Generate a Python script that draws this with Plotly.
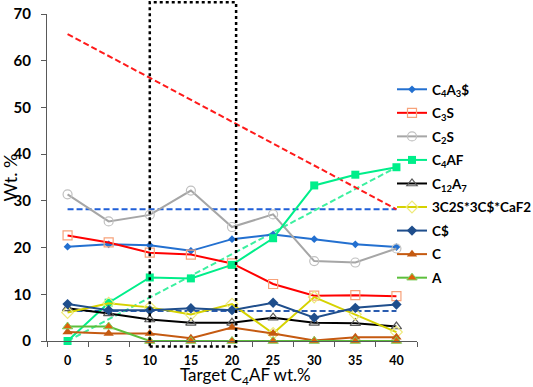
import plotly.graph_objects as go

# ---------------- data ----------------
target_c4af = [0, 5, 10, 15, 20, 25, 30, 35, 40]
x_ticks = [0, 5, 10, 15, 20, 25, 30, 35, 40]

c4a3s = [20.2, 20.7, 20.5, 19.3, 21.8, 22.8, 21.8, 20.7, 20.1]
c3s = [22.6, 21.1, 18.9, 18.5, 16.6, 12.2, 9.7, 9.8, 9.6]
c2s = [31.4, 25.6, 27.0, 32.2, 24.4, 27.1, 17.1, 16.8, 19.8]
c4af = [0.0, 8.2, 13.6, 13.4, 16.3, 22.0, 33.3, 35.6, 37.2]
c12a7 = [7.0, 5.9, 4.6, 3.9, 3.9, 5.0, 3.9, 3.8, 3.1]
ternesite_f = [6.1, 8.1, 7.2, 5.7, 7.9, 1.6, 9.4, 5.7, 1.9]
cs = [7.9, 6.6, 6.6, 7.0, 6.6, 8.2, 5.0, 7.1, 7.8]
c_lime = [1.9, 1.6, 1.6, 0.6, 2.9, 1.6, 0.1, 0.8, 0.8]
a_alumina = [3.1, 3.1, 0, 0, 0, 0, 0, 0, 0]

# target (dashed) lines: [start at 0, end at 40]
target_x = [0, 40]
target_c2s_line = [65.7, 28.2]
target_c4a3s_line = [28.2, 28.2]
target_cs_line = [6.4, 6.4]
target_c4af_line = [0.0, 37.2]

# dotted box (data units)
box_x = [10, 20.5]
box_y = [-1.2, 72.5]

X_RANGE = [-2.5, 42.5]
Y_RANGE = [0, 70]

FONT = "Lato"

fig = go.Figure()

# dashed target lines
for ys, col in [(target_c4a3s_line, "#1f5fd8"), (target_cs_line, "#2a5cb0"),
                (target_c4af_line, "#3cf0a0"), (target_c2s_line, "#ff1a1a")]:
    fig.add_trace(go.Scatter(x=target_x, y=ys, mode="lines", showlegend=False,
                             line=dict(color=col, width=2, dash="6px,3px"),
                             hoverinfo="skip"))

series = [
    ("C<sub>4</sub>A<sub>3</sub>$", c4a3s, "#2370d0",
     dict(symbol="diamond", size=6, color="#2370d0")),
    ("C<sub>3</sub>S", c3s, "#ff0000",
     dict(symbol="square-open", size=9, color="#f7a27a", line=dict(width=1.2))),
    ("C<sub>2</sub>S", c2s, "#a6a6a6",
     dict(symbol="circle-open", size=9, color="#c0c0c0", line=dict(width=1.2))),
    ("C<sub>4</sub>AF", c4af, "#00ee8a",
     dict(symbol="square", size=8, color="#00ee8a")),
    ("C<sub>12</sub>A<sub>7</sub>", c12a7, "#000000",
     dict(symbol="triangle-up-open", size=9, color="#595959", line=dict(width=1.2))),
    ("3C2S*3C$*CaF2", ternesite_f, "#d6d200",
     dict(symbol="diamond-open", size=9, color="#eeea7a", line=dict(width=1.2))),
    ("C$", cs, "#1f4e8c",
     dict(symbol="diamond", size=8, color="#1f4e8c")),
    ("C", c_lime, "#c55a11",
     dict(symbol="triangle-up", size=9, color="#c55a11")),
    ("A", a_alumina, "#5cbf3c",
     dict(symbol="triangle-up", size=9, color="#e0600a", line=dict(color="#7ccf5c", width=1))),
]

for i, (name, ys, col, mk) in enumerate(series):
    fig.add_trace(go.Scatter(x=target_c4af, y=ys, mode="lines+markers", name=name,
                             line=dict(color=col, width=2), marker=mk,
                             legendgroup=f"g{i}", cliponaxis=False))

# plot-area geometry
L, R, T, B = 47, 116, 14, 46
W, H = 533, 387
pw = W - L - R
ph = H - T - B


def xp(v):
    return (v - X_RANGE[0]) / (X_RANGE[1] - X_RANGE[0])


def yp(v):
    return (v - Y_RANGE[0]) / (Y_RANGE[1] - Y_RANGE[0])


fig.add_shape(type="rect", xref="paper", yref="paper",
              x0=xp(box_x[0]), x1=xp(box_x[1]), y0=yp(box_y[0]), y1=yp(box_y[1]),
              line=dict(color="black", width=2.5, dash="dot"), layer="above")

fig.update_layout(
    width=W, height=H,
    margin=dict(l=L, r=R, t=T, b=B, pad=0, autoexpand=False),
    paper_bgcolor="white", plot_bgcolor="white",
    font=dict(family=FONT, color="black"),
    showlegend=True,
    legend=dict(x=(392 - L) / pw, xanchor="left", y=(H - B - 74) / ph, yanchor="top",
                font=dict(family=FONT, size=13.5, weight="bold", color="black"),
                tracegroupgap=3, bgcolor="rgba(0,0,0,0)", itemwidth=30),
    xaxis=dict(range=X_RANGE, tickvals=x_ticks, ticktext=[str(v) for v in x_ticks],
               ticks="", showline=True, linecolor="#595959", linewidth=1.3,
               showgrid=False, zeroline=False, ticklabelstandoff=8,
               tickfont=dict(family=FONT, size=12.5, weight="bold", color="black"),
               minor=dict(tick0=2.5, dtick=5, ticks="outside", ticklen=5,
                          tickcolor="#595959", tickwidth=1.3, showgrid=False)),
    yaxis=dict(range=Y_RANGE, tickvals=[0, 10, 20, 30, 40, 50, 60, 70],
               ticks="outside", ticklen=5, tickcolor="#595959", tickwidth=1.3,
               showline=True, linecolor="#595959", linewidth=1.3,
               showgrid=False, zeroline=False, ticklabelstandoff=7,
               tickfont=dict(family=FONT, size=15, weight="bold", color="black")),
    annotations=[
        dict(text="Target C<sub>4</sub>AF wt.%", xref="paper", yref="paper",
             x=(245 - L) / pw, y=-(376 - (H - B)) / ph, xanchor="center", yanchor="middle",
             showarrow=False, font=dict(family=FONT, size=17, color="black")),
        dict(text="Wt. %", xref="paper", yref="paper", textangle=-90,
             x=-(L - 9) / pw, y=0.5, xanchor="center", yanchor="middle",
             showarrow=False, font=dict(family=FONT, size=18, color="black")),
    ],
)

fig.write_html("out.html", config={"displayModeBar": False},
               post_script="document.body.style.margin='0';document.body.style.overflow='hidden';")
